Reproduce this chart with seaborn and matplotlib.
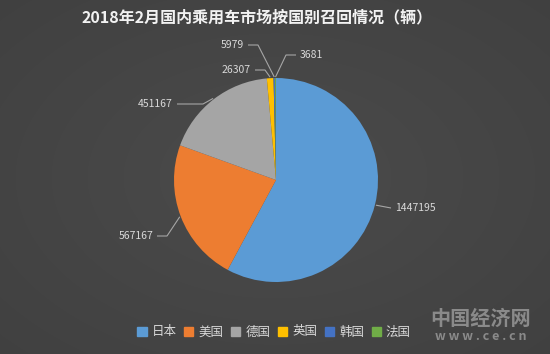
import matplotlib
matplotlib.use("Agg")
import matplotlib.pyplot as plt
import seaborn as sns
import numpy as np

# 数据
countries = ["日本", "美国", "德国", "英国", "韩国", "法国"]
recalls = [1447195, 567167, 451167, 26307, 5979, 3681]
colors = ["#5B9BD5", "#ED7D31", "#A5A5A5", "#FFC000", "#4472C4", "#70AD47"]

# 标签位置（像素，左上角为原点）与对齐方式
label_px = [(395, 208), (153, 236), (173, 104), (251, 70), (244, 45), (300, 55)]
label_ha = ["left", "right", "right", "right", "right", "left"]
elbow_len = [0, 10, 26, 10, 10, 10]

BG = "#464646"
TXT = "#d9d9d9"
LINE = "#a6a6a6"

sns.set_theme(style="dark")
plt.rcParams["font.family"] = ["Noto Sans CJK SC", "DejaVu Sans"]

W, H = 550, 354
fig = plt.figure(figsize=(W / 100, H / 100), dpi=100)

# 背景渐变
bg = fig.add_axes([0, 0, 1, 1], zorder=0)
yy, xx = np.mgrid[0:H, 0:W]
d = np.sqrt(((xx - W / 2) / W) ** 2 + ((yy - H / 2) / H) ** 2)
g = 0.295 - 0.06 * d
bg.imshow(np.dstack([g, g, g]), aspect="auto", interpolation="bilinear")
bg.axis("off")

ax = fig.add_axes([0, 0, 1, 1], zorder=1)
ax.patch.set_alpha(0)
cx, cy, R = 276, 180, 102

wedges, _ = ax.pie(recalls, colors=colors, startangle=90, counterclock=False,
                   radius=1, wedgeprops=dict(linewidth=0))
ax.set_xlim(-cx / R, (W - cx) / R)
ax.set_ylim(-(H - cy) / R, cy / R)
ax.set_aspect("equal")
ax.axis("off")

for w, val, (px, py), ha, el in zip(wedges, recalls, label_px, label_ha, elbow_len):
    ang = np.deg2rad((w.theta1 + w.theta2) / 2)
    ex, ey = np.cos(ang) * 1.01, np.sin(ang) * 1.01
    tx, ty = (px - cx) / R, (cy - py) / R
    sgn = 1 if ha == "left" else -1
    x0 = tx - sgn * 4 / R
    x1 = x0 - sgn * el / R
    ax.plot([x0, x1, ex], [ty, ty, ey], color=LINE, lw=0.8, solid_capstyle="butt")
    ax.text(tx, ty, f"{val}", ha=ha, va="center", fontsize=7.5, color=TXT)

fig.text(257 / W, 1 - 17 / H, "2018年2月国内乘用车市场按国别召回情况（辆）",
         ha="center", va="center", fontsize=11.5, fontweight="bold", color="#f2f2f2")

handles = [plt.Rectangle((0, 0), 1, 1, color=c) for c in colors]
leg = fig.legend(handles, countries, loc="center", bbox_to_anchor=(274 / W, 1 - 332 / H),
                 ncol=6, frameon=False, fontsize=9, handlelength=0.75, handleheight=0.75,
                 handletextpad=0.4, columnspacing=0.6, labelcolor=TXT)

fig.text(481 / W, 1 - 318 / H, "中国经济网", ha="center", va="center",
         fontsize=14.5, fontweight="bold", color="#8a8a8a")
fig.text(481 / W, 1 - 336 / H, "w w w . c e . c n", ha="center", va="center",
         fontsize=9, fontweight="bold", color="#8a8a8a")

fig.savefig("out.png", dpi=100, facecolor=BG)
